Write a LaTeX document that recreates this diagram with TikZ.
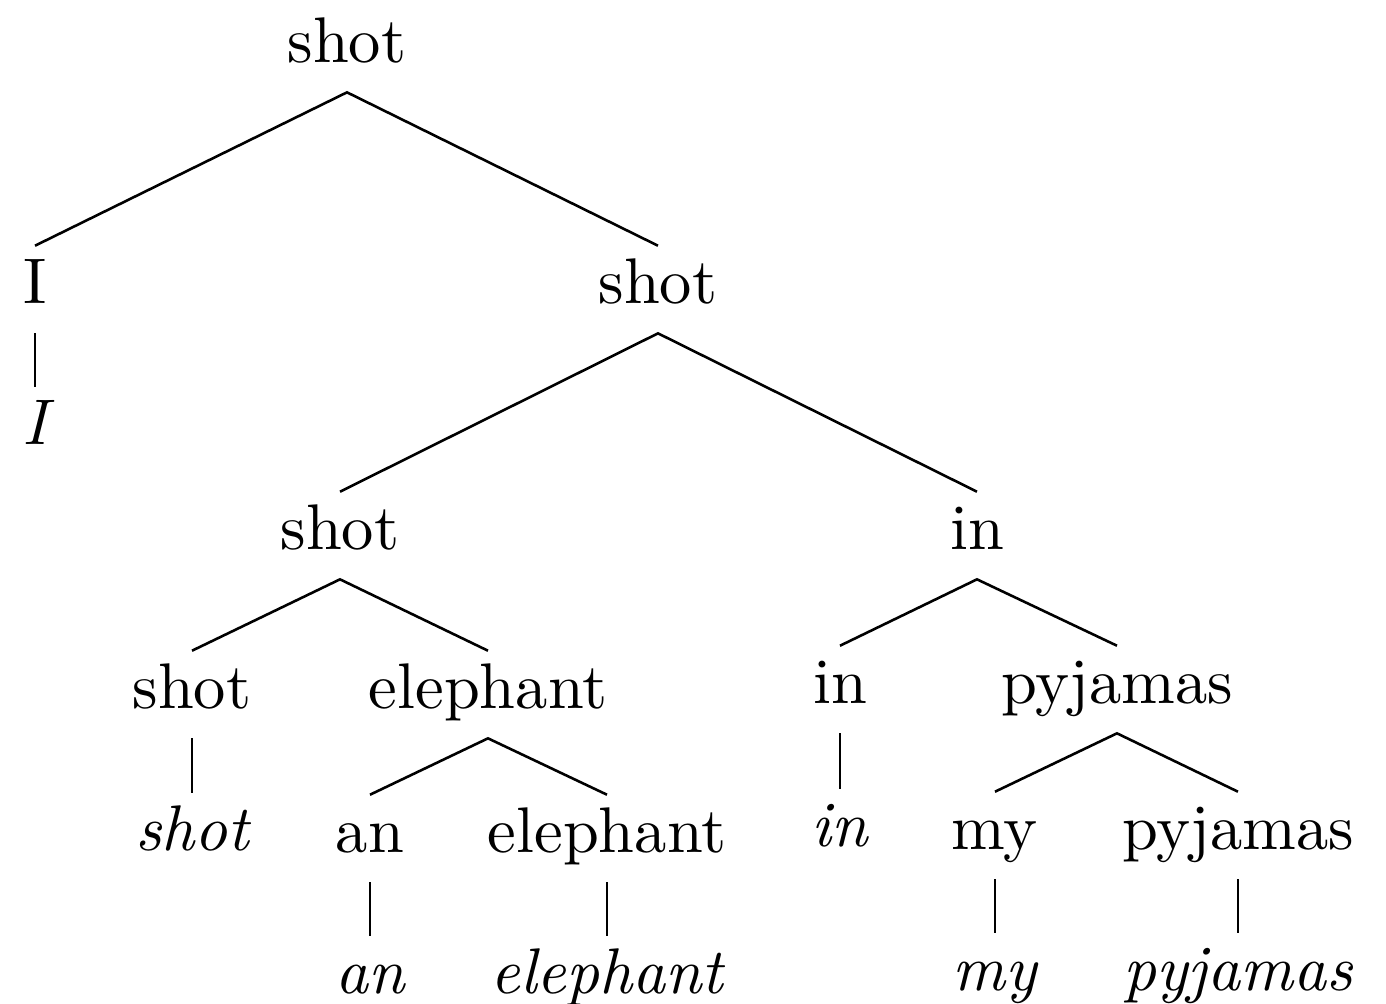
\documentclass[tikz,border=0pt]{standalone}
\usepackage{tikz}
\tikzstyle{word} = [anchor=base, inner sep=2pt, text height=6.68pt, text depth=2.5pt]
\tikzstyle{form} = [word, font=\itshape]

\begin{document}
\begin{tikzpicture}[x=0.155pt, y=-0.155pt]
	\useasboundingbox (0,0) rectangle (1386,1004);
	% heads
	\node[word] (s0) at (347,62) {shot};
	\node[word] (i1) at (35,303) {I};
	\node[word] (s1) at (658,303) {shot};
	\node[word] (s2) at (340,549) {shot};
	\node[word] (p2) at (977,549) {in};
	\node[word] (s3) at (192,708) {shot};
	\node[word] (e3) at (488,708) {elephant};
	\node[word] (p3) at (840,703) {in};
	\node[word] (n3) at (1117,703) {pyjamas};
	\node[word] (d4) at (370,852) {an};
	\node[word] (e4) at (607,852) {elephant};
	\node[word] (m4) at (995,849) {my};
	\node[word] (n4) at (1238,849) {pyjamas};
	% word forms
	\node[form] (i1w) at (35,444) {I};
	\node[form] (s3w) at (192,850) {shot};
	\node[form] (p3w) at (840,846) {in};
	\node[form] (d4w) at (370,993) {an};
	\node[form] (e4w) at (607,993) {elephant};
	\node[form] (m4w) at (995,990) {my};
	\node[form] (n4w) at (1238,990) {pyjamas};
	% branches
	\draw (i1.north) -- (s0.south) -- (s1.north);
	\draw (s2.north) -- (s1.south) -- (p2.north);
	\draw (s3.north) -- (s2.south) -- (e3.north);
	\draw (p3.north) -- (p2.south) -- (n3.north);
	\draw (d4.north) -- (e3.south) -- (e4.north);
	\draw (m4.north) -- (n3.south) -- (n4.north);
	\draw (i1.south) -- (i1w.north);
	\draw (s3.south) -- (s3w.north);
	\draw (p3.south) -- (p3w.north);
	\draw (d4.south) -- (d4w.north);
	\draw (e4.south) -- (e4w.north);
	\draw (m4.south) -- (m4w.north);
	\draw (n4.south) -- (n4w.north);
\end{tikzpicture}
\end{document}
